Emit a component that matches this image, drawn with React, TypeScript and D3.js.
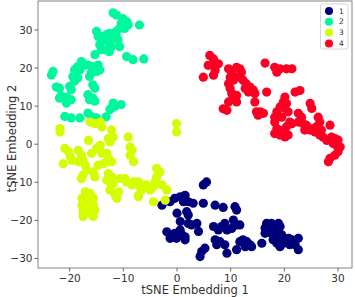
import React from "react";
import * as d3 from "d3";

const categories = ["1", "2", "3", "4"];
const colors = ["#00007a", "#00f89c", "#d6fc00", "#fc0024"];

const cluster1: [number, number][] = [
  [5.5, -9.9], [4.9, -10.7],
  [-2.8, -16.0], [-1.3, -15.1], [-0.4, -14.2], [0.6, -13.8], [1.5, -13.4], [1.2, -15.1], [2.1, -15.1], [3.0, -15.5],
  [4.9, -15.5], [7.1, -16.0], [8.6, -16.6], [10.8, -16.4], [11.1, -17.3],
  [0, -18.1], [1.8, -17.7], [2.1, -18.6], [0.6, -20.3], [2.1, -20.8], [2.7, -21.2], [3.7, -20.8], [4.0, -22.9],
  [-1.9, -23.0], [-1.0, -23.8], [-0.4, -23.4], [0.6, -22.5], [0.9, -23.8], [-0.1, -24.7], [1.5, -24.3], [1.5, -25.1], [-1.3, -24.7],
  [6.8, -21.6], [7.7, -22.5], [8.3, -21.6], [8.9, -20.8], [10.5, -19.9], [11.1, -21.2], [11.7, -21.2], [10.2, -22.1], [9.3, -22.5],
  [7.1, -25.1], [8.0, -25.6], [8.9, -26.4], [9.3, -28.6], [7.4, -26.4], [5.2, -27.3], [4.6, -28.2], [4.3, -29.5],
  [11.1, -27.7], [11.7, -25.6], [12.3, -25.1], [13.0, -25.6], [13.6, -26.4], [13.9, -26.9], [12.7, -26.9],
  [15.8, -26.0],
  [16.7, -20.8], [17.6, -20.8], [18.9, -20.8], [19.2, -21.6], [16.4, -22.0], [17.3, -22.5], [18.2, -22.5], [16.4, -23.4],
  [17.6, -23.4], [18.9, -22.9], [19.5, -23.8], [18.6, -24.3], [19.2, -25.1], [17.9, -25.1], [18.6, -26.0], [19.2, -26.9],
  [20.8, -24.7], [21.4, -25.1], [22.6, -24.7], [21.0, -26.4], [22.0, -26.4], [22.6, -27.7], [19.8, -26.0],
];

const cluster2: [number, number][] = [
  [-11.9, 34.5], [-11.3, 33.9], [-10.1, 33.0], [-10.4, 31.7], [-9.4, 32.2], [-9.1, 31.3], [-9.8, 30.4], [-10.7, 30.4],
  [-11.3, 29.6], [-11.9, 29.1], [-7.0, 31.3], [-15.0, 29.6], [-14.7, 28.3], [-14.1, 28.3], [-13.2, 28.7], [-12.6, 29.1],
  [-13.8, 27.4], [-12.9, 27.0], [-11.9, 27.8], [-11.0, 27.4], [-10.7, 25.6], [-12.2, 25.6], [-13.2, 24.8], [-14.4, 26.1],
  [-14.1, 24.8], [-15.3, 23.5], [-9.4, 23.0], [-8.2, 22.2], [-6.2, 22.4], [-11.3, 28.3], [-12.6, 24.3],
  [-17.8, 21.7], [-17.2, 20.8], [-18.5, 20.4], [-19.1, 19.5], [-18.1, 19.5], [-18.8, 18.7], [-19.4, 17.8], [-18.5, 17.4],
  [-19.1, 16.5], [-20.0, 15.2], [-19.7, 14.3], [-16.6, 20.8], [-15.7, 20.4], [-14.7, 20.8], [-14.4, 19.5], [-15.0, 19.1],
  [-16.0, 18.7], [-16.3, 17.8], [-23.1, 19.1], [-23.4, 18.2], [-22.5, 15.0], [-21.9, 14.7], [-21.6, 12.6], [-20.6, 12.4],
  [-21.9, 12.1], [-20.6, 10.8], [-19.7, 11.7], [-15.7, 15.6], [-15.3, 14.7], [-16.6, 13.0], [-15.7, 12.1], [-16.3, 11.7],
  [-15.3, 11.3], [-11.9, 10.8], [-11.6, 9.9], [-10.4, 10.4], [-12.2, 9.5], [-12.5, 9.1],
  [-20.9, 7.3], [-19.7, 6.9], [-18.1, 6.9], [-16.6, 8.2], [-16.0, 7.3], [-15.0, 6.9], [-13.2, 7.2],
];

const cluster3: [number, number][] = [
  [-21.8, 4.1], [-21.8, 3.2], [-16.2, 5.8], [-15.3, 5.4], [-14.3, 5.8], [-14.0, 4.5],
  [-12.2, 3.7], [-11.9, 1.9], [-12.8, 1.5], [-12.5, 0.6],
  [-9.1, 1.9], [-8.75, -0.7], [-8.4, -1.6], [-8.75, -2.9], [-8.1, -4.6],
  [-16.5, 1.0], [-14.3, -0.3], [-15.0, -1.1], [-15.9, -2.4], [-14.0, -2.4], [-13.1, -2.4], [-12.8, -3.7], [-12.2, -4.6],
  [-13.7, -5.1], [-14.7, -5.5],
  [-20.9, -1.1], [-20.2, -2.0], [-19.9, -3.3], [-19.6, -4.2], [-21.2, -5.1], [-18.4, -1.6], [-17.8, -2.9], [-17.5, -4.2],
  [-18.4, -4.6], [-17.1, -5.5], [-16.8, -6.8], [-17.5, -8.1], [-17.8, -9.0], [-15.6, -7.3], [-15.3, -8.6],
  [-12.8, -7.7], [-12.2, -8.6], [-13.1, -9.4], [-12.5, -9.9], [-11.9, -10.3], [-10.6, -9.0], [-9.7, -9.0], [-9.4, -9.9],
  [-8.4, -10.7], [-8.1, -9.9], [-7.2, -9.9], [-6.9, -11.2], [-6.6, -12.0], [-5.7, -10.7], [-5.0, -12.0], [-7.2, -13.8],
  [-3.8, -6.4], [-3.2, -7.3], [-3.8, -8.6], [-4.1, -9.9], [-4.4, -11.2], [-2.8, -10.7], [-1.9, -12.0],
  [-12.5, -12.0], [-11.5, -13.4], [-11.2, -14.2], [-10.9, -12.5],
  [-4.4, -15.1], [-2.2, -14.7], [-7.2, -13.4],
  [-17.1, -12.5], [-16.2, -12.9], [-17.7, -14.2], [-16.8, -14.7], [-15.6, -14.2], [-17.7, -16.0], [-16.5, -16.4],
  [-15.6, -16.0], [-17.5, -17.7], [-16.2, -18.1], [-15.3, -17.3], [-17.5, -19.0], [-15.6, -19.0],
  [-0.1, 5.4], [-0.1, 3.2],
];

const cluster4: [number, number][] = [
  [6.1, 23.3], [6.8, 22.4], [5.8, 20.7], [7.1, 21.1], [7.7, 21.1], [7.1, 19.4], [4.9, 17.6], [6.8, 18.1],
  [9.6, 19.8], [10.2, 18.9], [11.1, 20.2], [11.7, 19.8], [12.0, 18.9], [9.9, 17.6], [10.5, 16.8], [9.6, 15.9],
  [11.4, 17.6], [12.3, 16.8], [12.9, 15.9], [13.6, 15.0], [14.2, 14.2], [14.5, 13.3], [12.7, 14.6], [13.3, 13.7],
  [9.9, 14.6], [10.2, 13.3], [10.5, 12.4], [11.1, 12.8], [11.1, 11.1], [9.6, 11.1], [8.6, 9.3], [9.3, 8.9],
  [14.5, 11.1], [14.8, 8.5], [15.5, 8.5], [16.1, 8.1], [15.1, 7.6], [16.7, 13.7],
  [16.4, 21.3], [18.2, 20.2], [18.6, 18.9], [19.2, 19.8], [20.4, 19.8], [21.4, 19.8],
  [22.0, 13.7], [22.9, 14.1], [20.1, 12.4], [19.8, 11.1], [20.4, 10.7], [19.2, 9.8], [20.1, 9.4], [20.7, 8.5],
  [18.6, 8.5], [18.2, 7.1], [19.5, 7.1], [18.2, 5.8], [18.6, 4.1], [18.2, 2.8], [19.2, 2.4], [19.8, 3.7],
  [20.4, 4.6], [21.0, 5.8], [21.4, 5.4], [20.7, 2.4], [20.1, 1.9],
  [22.6, 8.1], [23.2, 7.1], [22.6, 5.8], [23.5, 5.4], [24.1, 5.0], [23.8, 3.7], [24.8, 3.7], [25.4, 4.1],
  [24.8, 10.7], [25.1, 9.4], [26.3, 7.1], [26.6, 5.8], [26.0, 4.6], [25.7, 3.2], [26.9, 3.7], [26.6, 2.4],
  [28.5, 5.0], [28.8, 1.9], [29.4, 1.5], [30.0, 1.1], [29.1, 0.2], [29.7, -0.3], [30.4, -0.7], [30.0, -2.0],
  [29.4, -2.9], [28.5, -3.7], [28.2, -4.6], [27.2, 1.9], [27.9, 1.0],
];

const clusters = [cluster1, cluster2, cluster3, cluster4];
const xTicks = [-20, -10, 0, 10, 20, 30];
const yTicks = [-30, -20, -10, 0, 10, 20, 30];
const xLabel = "tSNE Embedding 1";
const yLabel = "tSNE Embedding 2";

const W = 355;
const H = 297;
const left = 38;
const right = 352;
const top = 1;
const bottom = 268;

export default function App() {
  const x = d3.scaleLinear().domain([-25.9, 32.6]).range([left, right]);
  const y = d3.scaleLinear().domain([-32.5, 37.6]).range([bottom, top]);
  const fmt = (v: number) => (v < 0 ? "\u2212" + Math.abs(v) : String(v));
  const font = "DejaVu Sans, sans-serif";
  const tickColor = "#444";
  return (
    <svg
      width={W}
      height={H}
      style={{ position: "absolute", left: 0, top: 0, background: "#fff" }}
    >
      <rect x={0} y={0} width={W} height={H} fill="#fff" />
      <g>
        {clusters.map((pts, ci) =>
          pts.map((p, i) => (
            <circle
              key={`${ci}-${i}`}
              cx={x(p[0])}
              cy={y(p[1])}
              r={4.6}
              fill={colors[ci]}
            />
          ))
        )}
      </g>
      <rect
        x={left}
        y={top}
        width={right - left}
        height={bottom - top}
        fill="none"
        stroke="#777"
        strokeWidth={0.9}
      />
      {xTicks.map((t) => (
        <g key={"x" + t}>
          <line x1={x(t)} x2={x(t)} y1={bottom} y2={bottom + 3.5} stroke={tickColor} strokeWidth={0.8} />
          <text
            x={x(t)}
            y={bottom + 14}
            textAnchor="middle"
            fontFamily={font}
            fontSize={10.5}
            fill="#333"
          >
            {fmt(t)}
          </text>
        </g>
      ))}
      {yTicks.map((t) => (
        <g key={"y" + t}>
          <line x1={left - 3.5} x2={left} y1={y(t)} y2={y(t)} stroke={tickColor} strokeWidth={0.8} />
          <text
            x={left - 5.5}
            y={y(t)}
            dy="0.35em"
            textAnchor="end"
            fontFamily={font}
            fontSize={10.5}
            fill="#333"
          >
            {fmt(t)}
          </text>
        </g>
      ))}
      <text
        x={(left + right) / 2}
        y={294}
        textAnchor="middle"
        fontFamily={font}
        fontSize={11.5}
        fill="#333"
      >
        {xLabel}
      </text>
      <text
        transform={`translate(16,${(top + bottom) / 2 + 4}) rotate(-90)`}
        textAnchor="middle"
        fontFamily={font}
        fontSize={11.5}
        fill="#333"
      >
        {yLabel}
      </text>
      <g>
        <rect x={320.5} y={4} width={27.5} height={45} rx={2} fill="#fff" fillOpacity={0.85} stroke="#ccc" strokeWidth={0.8} />
        {categories.map((c, i) => (
          <g key={c}>
            <circle cx={329} cy={11 + i * 10.8} r={4} fill={colors[i]} />
            <text x={339} y={11 + i * 10.8} dy="0.35em" fontFamily={font} fontSize={7.5} fill="#333">
              {c}
            </text>
          </g>
        ))}
      </g>
    </svg>
  );
}
